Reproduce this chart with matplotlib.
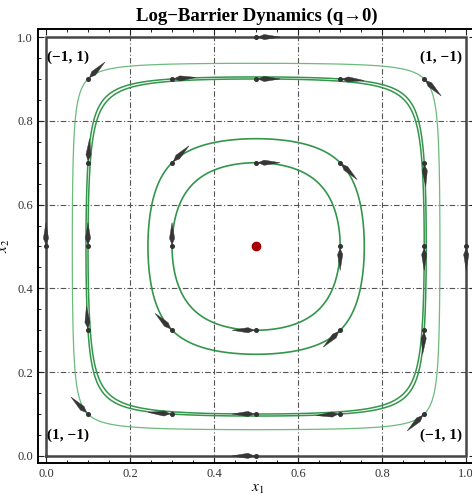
import numpy as np
import matplotlib

matplotlib.use("Agg")
import matplotlib.pyplot as plt
from matplotlib.patches import Polygon
from matplotlib.ticker import MultipleLocator, FormatStrFormatter

plt.rcParams["font.family"] = ["Liberation Serif", "DejaVu Serif"]
plt.rcParams["mathtext.fontset"] = "stix"
plt.rcParams["axes.unicode_minus"] = True

title = "Log\u2212Barrier Dynamics (q\u21920)"

# streamlines are seeded at these points (closed orbits of the field)
orbit_x1 = [0.3, 0.3, 0.1, 0.1, 0.1]
orbit_x2 = [0.5, 0.7, 0.5, 0.7, 0.9]
orbit_colors = ["#33964a", "#33964a", "#33964a", "#33964a", "#6dbb7d"]
orbit_widths = [1.2, 1.2, 1.1, 1.1, 0.9]

# arrow seed points
arrow_x1 = [0.5, 1.0, 0.5, 0.0,
            0.3, 0.5, 0.7, 0.5,
            0.3, 0.7, 0.7, 0.3,
            0.1, 0.1, 0.1, 0.9, 0.9, 0.9,
            0.3, 0.5, 0.7, 0.3, 0.5, 0.7,
            0.1, 0.9, 0.9, 0.1]
arrow_x2 = [1.0, 0.5, 0.0, 0.5,
            0.5, 0.7, 0.5, 0.3,
            0.7, 0.7, 0.3, 0.3,
            0.3, 0.5, 0.7, 0.3, 0.5, 0.7,
            0.9, 0.9, 0.9, 0.1, 0.1, 0.1,
            0.9, 0.9, 0.1, 0.1]

corner_labels = ["(\u22121, 1)", "(1, \u22121)", "(1, \u22121)", "(\u22121, 1)"]
corner_x = [0.003, 0.99, 0.003, 0.99]
corner_y = [0.952, 0.952, 0.05, 0.05]
corner_ha = ["left", "right", "left", "right"]

equilibrium = (0.5, 0.5)


def inv_hess(x):
    # 1 / h''(x) for the log barrier h(x) = -log x - log(1-x)
    return x**2 * (1 - x)**2 / (x**2 + (1 - x)**2)


def field(x1, x2):
    return (2 * x2 - 1) * inv_hess(x1), (1 - 2 * x1) * inv_hess(x2)


def energy(x1, x2):
    u1 = x1 * (1 - x1)
    u2 = x2 * (1 - x2)
    return np.log(u1) + 0.5 / u1 + np.log(u2) + 0.5 / u2


fig = plt.figure(figsize=(4.72, 4.97), dpi=100)
ax = fig.add_axes([0.0805, 0.0684, 0.926, 0.873])
ax.set_xlim(-0.019, 1.021)
ax.set_ylim(-0.017, 1.019)

for g in [0.2, 0.4, 0.6, 0.8]:
    ax.axvline(g, color="#555555", lw=0.8, ls=(0, (5, 2, 1, 2)), zorder=1)
    ax.axhline(g, color="#555555", lw=0.8, ls=(0, (5, 2, 1, 2)), zorder=1)

# invariant boundary of the square
ax.plot([0, 1, 1, 0, 0], [0, 0, 1, 1, 0], color="#454545", lw=1.8, zorder=2,
        solid_joinstyle="miter")

g = np.linspace(0.002, 0.998, 700)
X1, X2 = np.meshgrid(g, g)
E = energy(X1, X2)
for sx, sy, c, w in zip(orbit_x1, orbit_x2, orbit_colors, orbit_widths):
    lev = energy(np.array(sx), np.array(sy))
    ax.contour(X1, X2, E, levels=[float(lev)], colors=[c], linewidths=w, zorder=3)

px = 1 / 420.0
for sx, sy in zip(arrow_x1, arrow_x2):
    fx, fy = field(sx, sy)
    n = np.hypot(fx, fy)
    d = np.array([fx, fy]) / n
    p = np.array([-d[1], d[0]])
    b = np.array([sx, sy])
    pts = [b + d * 2 * px,
           b + d * 8 * px + p * 2.6 * px,
           b + d * 24 * px,
           b + d * 8 * px - p * 2.6 * px]
    ax.add_patch(Polygon(pts, closed=True, fc="#363636", ec="#363636", lw=0.3, zorder=4))
    ax.plot(sx, sy, "o", ms=2.6, color="#333333", zorder=5)

ax.plot(*equilibrium, "o", ms=6, color="#a80000", zorder=6)

for t, x, y, ha in zip(corner_labels, corner_x, corner_y, corner_ha):
    ax.text(x, y, t, ha=ha, va="center", fontsize=11, fontweight="bold", zorder=7)

ax.set_title(title, fontsize=13.5, fontweight="bold", pad=6)
ax.set_xlabel(r"$x_1$", fontsize=11)
ax.set_ylabel(r"$x_2$", fontsize=11)
ax.xaxis.set_label_coords(0.503, -0.047)
ax.yaxis.set_label_coords(-0.06, 0.5)

ax.xaxis.set_major_locator(MultipleLocator(0.2))
ax.yaxis.set_major_locator(MultipleLocator(0.2))
ax.xaxis.set_minor_locator(MultipleLocator(0.05))
ax.yaxis.set_minor_locator(MultipleLocator(0.05))
ax.xaxis.set_major_formatter(FormatStrFormatter("%.1f"))
ax.yaxis.set_major_formatter(FormatStrFormatter("%.1f"))
ax.tick_params(which="both", direction="in", top=True, right=True, labelsize=9,
               labelcolor="#333333", color="#222222")
ax.tick_params(which="major", length=4.5, width=0.8)
ax.tick_params(which="minor", length=2.5, width=0.7)
for s in ax.spines.values():
    s.set_linewidth(1.4)

fig.savefig("out.png", dpi=100)
